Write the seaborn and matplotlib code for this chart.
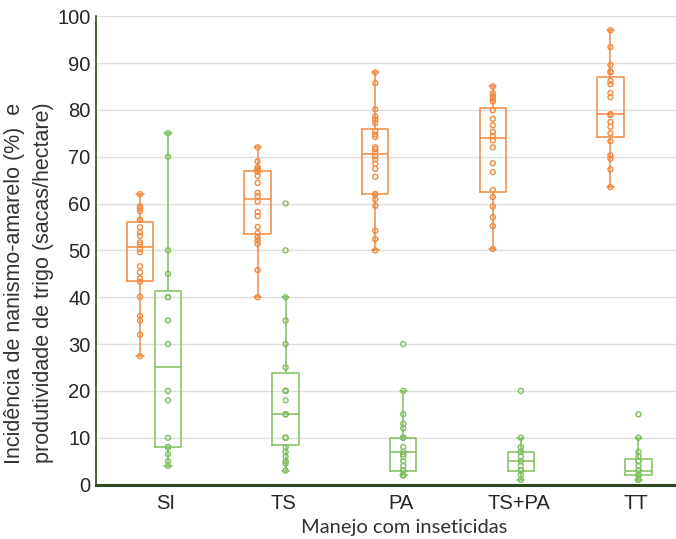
import numpy as np
import pandas as pd
import seaborn as sns
import matplotlib.pyplot as plt

categorias = ['SI', 'TS', 'PA', 'TS+PA', 'TT']

# produtividade de trigo (sacas/hectare) - laranja
prod_si = [62, 59.4, 59.0, 58.4, 56.5, 56.5, 54.9, 53.8, 53.1, 51.7, 51.2, 50.3,
           49.6, 46.6, 45.3, 44, 43.3, 40.1, 36.0, 35.0, 32.0, 27.4]
prod_ts = [72, 69, 67.7, 67.3, 67, 66.8, 65.9, 64.4, 62.3, 61.6, 60.4, 58.2,
           57.3, 55, 53.7, 52.8, 52.1, 51.4, 45.8, 40]
prod_pa = [88, 85.7, 80.1, 78.6, 77.9, 77.2, 75.4, 74.7, 74.2, 72, 71.6, 71,
           70.1, 69.4, 68.5, 67.4, 65.7, 62, 62, 60.9, 59.5, 54.2, 52.4, 50]
prod_tspa = [85, 83.5, 82.9, 82.4, 81.8, 79.9, 78.1, 76.7, 75.3, 74.4, 73.5, 72,
             68.6, 66.7, 62.9, 61.4, 59.4, 57.1, 55.2, 50.3]
prod_tt = [97, 93.4, 89.6, 88.2, 88, 86.2, 85.5, 83.6, 82.7, 79.1, 78.9, 77.4,
           76.4, 75, 73.3, 70.3, 69.6, 67.3, 63.5]

# incidencia de nanismo-amarelo (%) - verde
inc_si = [75, 70, 50, 45, 40, 40, 35, 30, 20, 18, 10, 8, 8, 6.5, 5, 4]
inc_ts = [60, 50, 40, 35, 30, 25, 20, 20, 20, 18, 15, 15, 15, 10, 10, 10,
          8, 7, 6, 5, 4.5, 3]
inc_pa = [30, 20, 15, 13, 12, 10, 10, 10, 10, 8, 7, 6.5, 6, 5, 4, 3, 3, 3, 2, 2, 2]
inc_tspa = [20, 10, 8, 7, 7, 6, 5, 5, 4, 3, 3, 2, 1]
inc_tt = [15, 10, 7, 6, 5, 5, 4, 3, 3, 3, 2, 2, 2, 1, 1]

laranja = '#f28a3e'
verde = '#7fbf5e'
cor_eixo = '#2f4a22'


def tabela(listas):
    linhas = []
    for i, valores in enumerate(listas):
        for v in valores:
            linhas.append({'cat': i, 'valor': v})
    return pd.DataFrame(linhas)


df_prod = tabela([prod_si, prod_ts, prod_pa, prod_tspa, prod_tt])
df_inc = tabela([inc_si, inc_ts, inc_pa, inc_tspa, inc_tt])

sns.set_style('white')
plt.rcParams['font.family'] = ['Liberation Sans', 'DejaVu Sans']

fig = plt.figure(figsize=(6.76, 5.39), dpi=100)
ax = fig.add_axes([0.142, 0.101, 0.858, 0.869])

desl = 0.119
for d, cor, dx in [(df_prod, laranja, -desl), (df_inc, verde, desl)]:
    d = d.assign(pos=d['cat'] + dx)
    sns.boxplot(data=d, x='pos', y='valor', native_scale=True, width=0.225,
                fill=False, color=cor, linewidth=1.1, showfliers=False,
                capwidths=0.06, ax=ax)
    n0 = len(ax.collections)
    sns.stripplot(data=d, x='pos', y='valor', native_scale=True, jitter=False,
                  color=cor, size=3.6, linewidth=1.0, ax=ax, zorder=3)
    for coll in ax.collections[n0:]:
        coll.set_facecolor('none')
        coll.set_edgecolor(cor)

ax.set_xlim(-0.493, 4.438)
ax.set_ylim(0, 100)
ax.set_yticks(np.arange(0, 101, 10))
ax.set_xticks(np.arange(len(categorias)) + 0.1)
ax.set_xticklabels(categorias)
ax.yaxis.grid(True, color='#dedede', linewidth=1.0)
ax.set_axisbelow(True)
ax.tick_params(axis='y', length=0, pad=4, labelsize=14.5, labelcolor='#262626')
ax.tick_params(axis='x', length=0, pad=7, labelsize=14.5, labelcolor='#262626')

for s in ['top', 'right']:
    ax.spines[s].set_visible(False)
ax.spines['left'].set_color(cor_eixo)
ax.spines['left'].set_linewidth(1.2)
ax.spines['bottom'].set_color(cor_eixo)
ax.spines['bottom'].set_linewidth(2.2)

ax.set_xlabel('')
ax.set_ylabel('')
fig.text(0.598, 0.021, 'Manejo com inseticidas',
         ha='center', va='center', fontsize=14.5, color='#333333',
         family=['Lato', 'DejaVu Sans'])
fig.text(0.043, 0.475,
         'Incidência de nanismo-amarelo (%)  e\nprodutividade de trigo (sacas/hectare)',
         rotation=90, ha='center', va='center', fontsize=15.5,
         linespacing=1.5, color='#333333')

fig.savefig('out.png', dpi=100)
